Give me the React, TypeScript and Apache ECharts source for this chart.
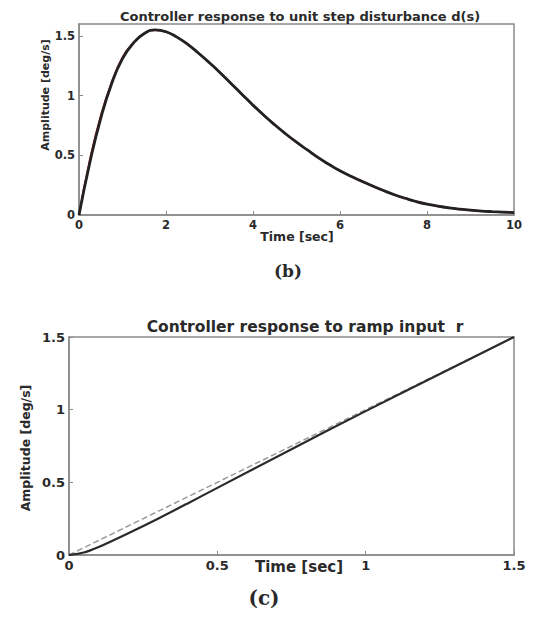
import React, { useEffect, useRef } from "react";
import * as echarts from "echarts";

// Top chart: controller response to unit step disturbance d(s)
const stepTime = [0, 0.25, 0.5, 0.75, 1.0, 1.25, 1.5, 1.75, 2.0, 2.25, 2.5, 2.75, 3.0, 3.25, 3.5, 3.75, 4.0, 4.25, 4.5, 4.75, 5.0, 5.25, 5.5, 5.75, 6.0, 6.25, 6.5, 6.75, 7.0, 7.25, 7.5, 7.75, 8.0, 8.25, 8.5, 8.75, 9.0, 9.25, 9.5, 9.75, 10];
const stepBlack = [0, 0.44, 0.81, 1.1, 1.31, 1.44, 1.52, 1.55, 1.535, 1.49, 1.43, 1.355, 1.275, 1.19, 1.1, 1.01, 0.92, 0.835, 0.755, 0.68, 0.61, 0.545, 0.48, 0.423, 0.37, 0.325, 0.283, 0.243, 0.205, 0.17, 0.14, 0.113, 0.091, 0.074, 0.06, 0.049, 0.04, 0.033, 0.028, 0.024, 0.02];
const stepRed = [0, 0.46, 0.83, 1.11, 1.32, 1.44, 1.52, 1.55, 1.535, 1.49, 1.43, 1.355, 1.275, 1.19, 1.1, 1.01, 0.92, 0.835, 0.755, 0.68, 0.61, 0.545, 0.48, 0.423, 0.37, 0.325, 0.283, 0.243, 0.205, 0.17, 0.14, 0.113, 0.091, 0.074, 0.06, 0.049, 0.04, 0.033, 0.028, 0.024, 0.02];

// Bottom chart: controller response to ramp input r
const rampTime = [0, 0.05, 0.1, 0.2, 0.3, 0.4, 0.5, 0.75, 1.0, 1.25, 1.5];
const rampResponse = [0, 0.017, 0.055, 0.15, 0.25, 0.355, 0.462, 0.728, 0.99, 1.245, 1.5];
const rampRefTime = [0, 1.5];
const rampRef = [0, 1.5];

const topXTicks = [0, 2, 4, 6, 8, 10];
const topYTicks = [0, 0.5, 1, 1.5];
const botXTicks = [0, 0.5, 1, 1.5];
const botYTicks = [0, 0.5, 1, 1.5];

const FONT = "DejaVu Sans, Verdana, sans-serif";
const SERIF = "DejaVu Serif, serif";
const TXT = "#2a2a2a";
const AX = "#8a8a8a";

function zip(a: number[], b: number[]) {
  return a.map((v, i) => [v, b[i]]);
}

export default function App() {
  const ref = useRef<HTMLDivElement>(null);
  useEffect(() => {
    if (!ref.current) return;
    const chart = echarts.init(ref.current, null, { renderer: "svg" });
    const axisCommon = (ticks: number[], size: number) => ({
      axisLine: { show: true, lineStyle: { color: AX, width: 1.5 } },
      axisTick: { show: true, inside: true, length: 4, customValues: ticks, lineStyle: { color: AX } },
      axisLabel: { customValues: ticks, color: TXT, fontFamily: FONT, fontWeight: "bold", fontSize: size, margin: 4, hideOverlap: false },
      splitLine: { show: false },
    });
    chart.setOption({
      animation: false,
      backgroundColor: "#ffffff",
      grid: [
        { left: 79, right: 20, top: 24, height: 191, show: true, borderColor: AX, borderWidth: 1.5, containLabel: false },
        { left: 69, right: 20, top: 337, height: 218, show: true, borderColor: AX, borderWidth: 1.5, containLabel: false },
      ],
      xAxis: [
        { type: "value", gridIndex: 0, min: 0, max: 10, interval: 2, ...axisCommon(topXTicks, 11.5) },
        { type: "value", gridIndex: 1, min: 0, max: 1.5, interval: 0.5, ...axisCommon(botXTicks, 13) },
      ],
      yAxis: [
        { type: "value", gridIndex: 0, min: 0, max: 1.6, ...axisCommon(topYTicks, 11.5) },
        { type: "value", gridIndex: 1, min: 0, max: 1.5, interval: 0.5, ...axisCommon(botYTicks, 13) },
      ],
      series: [
        { type: "line", xAxisIndex: 0, yAxisIndex: 0, data: zip(stepTime, stepRed), smooth: 0.5, showSymbol: false, lineStyle: { color: "#c0201c", width: 2 } },
        { type: "line", xAxisIndex: 0, yAxisIndex: 0, data: zip(stepTime, stepBlack), smooth: 0.5, showSymbol: false, lineStyle: { color: "#222222", width: 2.8 } },
        { type: "line", xAxisIndex: 1, yAxisIndex: 1, data: zip(rampRefTime, rampRef), showSymbol: false, lineStyle: { color: "#9a9a9a", width: 1.5, type: [6, 3] } },
        { type: "line", xAxisIndex: 1, yAxisIndex: 1, data: zip(rampTime, rampResponse), smooth: 0.3, showSymbol: false, lineStyle: { color: "#2a2a2a", width: 2.2 } },
      ],
      graphic: [
        { type: "text", x: 300, y: 16, style: { text: "Controller response to unit step disturbance d(s)", fill: TXT, font: `bold 13px ${FONT}`, textAlign: "center", textVerticalAlign: "middle" } },
        { type: "text", x: 297, y: 236, style: { text: "Time [sec]", fill: TXT, font: `bold 12.5px ${FONT}`, textAlign: "center", textVerticalAlign: "middle" } },
        { type: "text", x: 45, y: 95, rotation: Math.PI / 2, style: { text: "Amplitude [deg/s]", fill: TXT, font: `bold 11px ${FONT}`, textAlign: "center", textVerticalAlign: "middle" } },
        { type: "text", x: 288, y: 271, style: { text: "(b)", fill: TXT, font: `bold 17px ${SERIF}`, textAlign: "center", textVerticalAlign: "middle" } },
        { type: "text", x: 305, y: 327, style: { text: "Controller response to ramp input  r", fill: TXT, font: `bold 15.5px ${FONT}`, textAlign: "center", textVerticalAlign: "middle" } },
        { type: "text", x: 299, y: 567, style: { text: "Time [sec]", fill: TXT, font: `bold 15px ${FONT}`, textAlign: "center", textVerticalAlign: "middle" } },
        { type: "text", x: 25, y: 448, rotation: Math.PI / 2, style: { text: "Amplitude [deg/s]", fill: TXT, font: `bold 12.5px ${FONT}`, textAlign: "center", textVerticalAlign: "middle" } },
        { type: "text", x: 264, y: 598, style: { text: "(c)", fill: TXT, font: `bold 20px ${SERIF}`, textAlign: "center", textVerticalAlign: "middle" } },
      ],
    });
    return () => chart.dispose();
  }, []);
  return <div ref={ref} style={{ position: "fixed", left: 0, top: 0, width: 534, height: 617 }} />;
}
